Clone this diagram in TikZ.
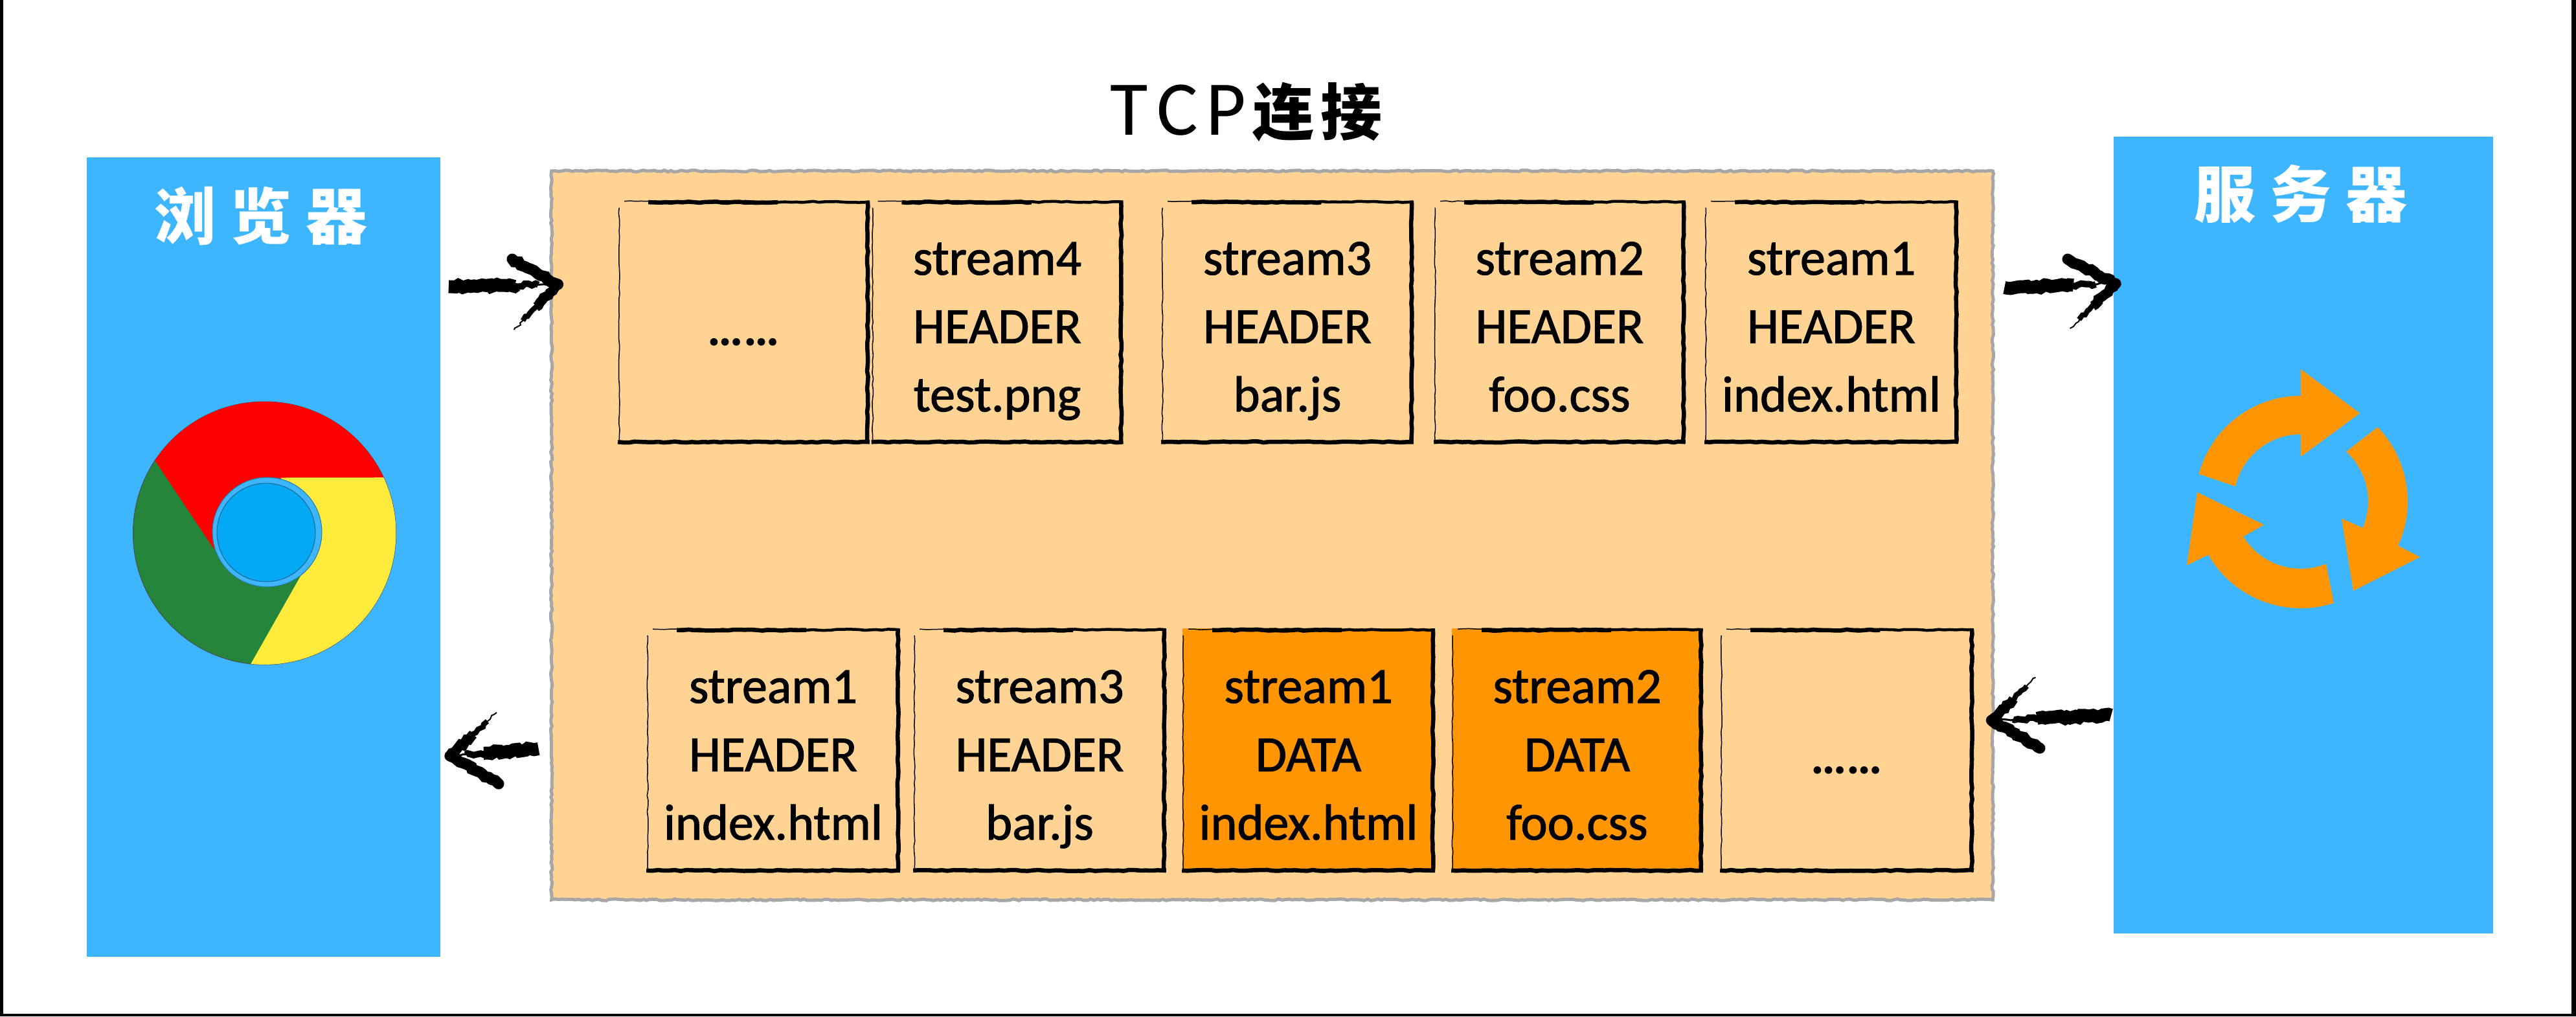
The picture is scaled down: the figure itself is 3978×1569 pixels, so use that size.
\documentclass[tikz,border=0pt]{standalone}
\usepackage{fontspec}
\setmainfont{Carlito}
\newfontfamily\boxfont{Carlito}[FakeBold=1.4]
\newfontfamily\cjkfont{Noto Sans CJK SC}
\usetikzlibrary{calc,decorations.pathmorphing}
\definecolor{skyblue}{HTML}{3EB6FF}
\definecolor{peach}{HTML}{FFD393}
\definecolor{deeporange}{HTML}{FF9500}
\definecolor{panelgray}{HTML}{A6A6A6}
\definecolor{chromered}{HTML}{FF0000}
\definecolor{chromegreen}{HTML}{25853A}
\definecolor{chromeyellow}{HTML}{FFEB3B}
\definecolor{chromecore}{HTML}{03A9F4}
\tikzset{
  side/.style={fill=skyblue,inner sep=0pt,draw=none},
  sidetitle/.style={text=white,inner sep=0pt,font=\cjkfont\bfseries\fontsize{27pt}{30pt}\selectfont},
  msg/.style={minimum width=3.87cm,minimum height=3.75cm,inner sep=0pt,align=center,
    font=\boxfont\fontsize{22.2pt}{30pt}\selectfont,text height=2.76cm,text depth=0cm},
  dots/.style={minimum width=3.87cm,minimum height=3.75cm,inner sep=0pt,
    font=\bfseries\fontsize{22.2pt}{30pt}\selectfont,text height=.72cm,text depth=0cm},
  rough/.style={decorate,decoration={random steps,segment length=2.5pt,amplitude=.25pt}},
  dry/.style={decorate,decoration={random steps,segment length=1.6pt,amplitude=.6pt}},
  edgehair/.style={black,line width=.015cm,rough},
  edgemid/.style={black,line width=.045cm,rough},
  edgeheavy/.style={black,line width=.065cm,rough},
  panelline/.style={panelgray,line width=.05cm,decorate,decoration={random steps,segment length=1.5pt,amplitude=.35pt}},
  brush/.style={black,dry},
}
\newcommand{\skbox}[1]{%
  \draw[edgehair] ([shift={(2,12)}]#1.north west) -- ([shift={(2,-3)}]#1.south west);
  \draw[edgehair] ([shift={(10,2)}]#1.north west) -- ([shift={(47,2)}]#1.north west);
  \draw[edgemid] ([shift={(47,3)}]#1.north west) -- ([shift={(-1,3)}]#1.north east);
  \draw[edgeheavy] ([shift={(47,3.5)}]#1.north west) -- ([shift={(247,3.5)}]#1.north west);
  \draw[edgeheavy] ([shift={(-3,1)}]#1.north east) -- ([shift={(-3,-1)}]#1.south east);
  \draw[edgeheavy] ([shift={(0,-3)}]#1.south west) -- ([shift={(0,-3)}]#1.south east);
}
% #1 tail, #2 tip, #3 barb end with full stroke, #4 barb end with dry stroke
\newcommand{\brushArrow}[4]{%
  \draw[brush,line width=.2cm] (#1) -- ($(#1)!.62!(#2)$);
  \draw[brush,line width=.1cm] ($(#1)!.5!(#2)$) -- ($(#1)!.82!(#2)$);
  \draw[brush,line width=.03cm] ($(#1)!.8!(#2)$) -- (#2);
  \draw[brush,line width=.17cm,line cap=round] (#3) -- (#2);
  \draw[brush,line width=.15cm] (#2) -- ($(#2)!.5!(#4)$);
  \draw[brush,line width=.08cm] ($(#2)!.45!(#4)$) -- ($(#2)!.8!(#4)$);
  \draw[brush,line width=.02cm] ($(#2)!.78!(#4)$) -- (#4);
}
\begin{document}
\begin{tikzpicture}[x=0.01cm,y=-0.01cm]
\pgfmathsetseed{7}
\useasboundingbox (0,0) rectangle (3978,1569);
\fill[white] (0,0) rectangle (3978,1569);
\fill[black] (0,0) rectangle (5,1569);
\fill[black] (3971,0) rectangle (3978,1569);
\fill[black] (0,1565) rectangle (3978,1569);

% panels
\node[side,minimum width=5.46cm,minimum height=12.34cm] (browser) at (407,860) {};
\node[side,minimum width=5.86cm,minimum height=12.30cm] (server) at (3557,826) {};
\node[fill=peach,inner sep=0pt,minimum width=22.23cm,minimum height=11.23cm] (tcp) at (1964.5,826.5) {};
\draw[panelline] (tcp.north west) -- (tcp.north east) -- (tcp.south east) -- (tcp.south west) -- cycle;

% titles
\node[sidetitle] (browserT) at (403,333) {浏\hspace{.22cm}览\hspace{.22cm}器};
\node[sidetitle] (serverT) at (3553,299) {服\hspace{.22cm}务\hspace{.22cm}器};
\node[inner sep=0pt] (tcpT) at (1924.5,173) {\fontsize{34pt}{38pt}\selectfont T\hspace{.14cm}C\hspace{.12cm}P\hspace{.1cm}{\cjkfont\bfseries\fontsize{27pt}{30pt}\selectfont 连\hspace{.1cm}接}};

% top row
\node[dots,fill=peach] (t1) at (1148.5,497) {……};
\node[msg,fill=peach] (t2) at (1540,497) {stream4\\HEADER\\test.png};
\node[msg,fill=peach,minimum width=3.88cm] (t3) at (1988,497) {stream3\\HEADER\\bar.js};
\node[msg,fill=peach] (t4) at (2408.5,497) {stream2\\HEADER\\foo.css};
\node[msg,fill=peach,minimum width=3.90cm] (t5) at (2828,497) {stream1\\HEADER\\index.html};
% bottom row
\node[msg,fill=peach,minimum width=3.90cm,minimum height=3.76cm] (b1) at (1194,1158) {stream1\\HEADER\\index.html};
\node[msg,fill=peach,minimum width=3.89cm,minimum height=3.76cm] (b2) at (1605.5,1158) {stream3\\HEADER\\bar.js};
\node[msg,fill=deeporange,minimum width=3.89cm,minimum height=3.76cm] (b3) at (2020.5,1158) {stream1\\DATA\\index.html};
\node[msg,fill=deeporange,minimum width=3.87cm,minimum height=3.76cm] (b4) at (2435.5,1158) {stream2\\DATA\\foo.css};
\node[dots,fill=peach,minimum width=3.90cm,minimum height=3.76cm] (b5) at (2852,1158) {……};
\foreach \n in {t1,t2,t3,t4,t5,b1,b2,b3,b4,b5} {\skbox{\n}}

% chrome logo
\fill[chromegreen,draw=black!70,line width=.01cm] (408.5,823) circle [radius=203];
\fill[chromered] plot[domain=146.5:25,samples=50] ({408.5+203*cos(\x)},{823-203*sin(\x)}) -- (434,737.5) -- (413,822) -- (330,847) -- cycle;
\fill[chromeyellow] plot[domain=25:-96,samples=50] ({408.5+203*cos(\x)},{823-203*sin(\x)}) -- (466,886) -- (413,822) -- (434,737.5) -- cycle;
\fill[skyblue,draw=black!35!skyblue,line width=.01cm] (412.5,821.5) circle [radius=84.5];
\fill[chromecore,draw=black!45!skyblue,line width=.01cm] (411,822) circle [radius=76];

% server icon
\fill[deeporange] plot[domain=165:90,samples=30] ({3553+163*cos(\x)},{774-163*sin(\x)}) -- (3553,570) -- (3644,638) -- (3553,705) -- (3553,670.4) -- plot[domain=90:167,samples=30] ({3553+103.6*cos(\x)},{774-103.6*sin(\x)}) -- cycle;
\fill[deeporange] plot[domain=44:-24.5,samples=30] ({3553+165*cos(\x)},{774-165*sin(\x)}) -- (3737,860) -- (3634,912) -- (3616,800.5) -- (3649,815) -- plot[domain=-23:47.6,samples=30] ({3553+104*cos(\x)},{774-104*sin(\x)}) -- cycle;
\fill[deeporange] plot[domain=-72:-150,samples=30] ({3553+165*cos(\x)},{774-165*sin(\x)}) -- (3377,872.6) -- (3393,760) -- (3496,810) -- (3466.6,827) -- plot[domain=-148.5:-68,samples=30] ({3553+104*cos(\x)},{774-104*sin(\x)}) -- cycle;

% connectors
\coordinate (a1tail) at ([shift={(12,200.5)}]browser.north east);
\coordinate (a1tip) at ([shift={(10,175)}]tcp.north west);
\coordinate (a1up) at (791,400);
\coordinate (a1dn) at (794,509);
\brushArrow{a1tail}{a1tip}{a1up}{a1dn}
\coordinate (a2tail) at ([shift={(18,180)}]tcp.north east);
\coordinate (a2tip) at ([shift={(4,228)}]server.north west);
\coordinate (a2up) at (3193,400);
\coordinate (a2dn) at (3196.5,507);
\brushArrow{a2tail}{a2tip}{a2up}{a2dn}
\coordinate (a3tail) at ([shift={(-3,894)}]server.north west);
\coordinate (a3tip) at ([shift={(-2,848)}]tcp.north east);
\coordinate (a3up) at (3143.5,1046);
\coordinate (a3dn) at (3150,1155);
\brushArrow{a3tail}{a3tip}{a3dn}{a3up}
\coordinate (a4tail) at ([shift={(-20,892)}]tcp.north west);
\coordinate (a4tip) at ([shift={(14,925)}]browser.north east);
\coordinate (a4up) at (767,1100);
\coordinate (a4dn) at (770,1210);
\brushArrow{a4tail}{a4tip}{a4dn}{a4up}
\end{tikzpicture}
\end{document}
